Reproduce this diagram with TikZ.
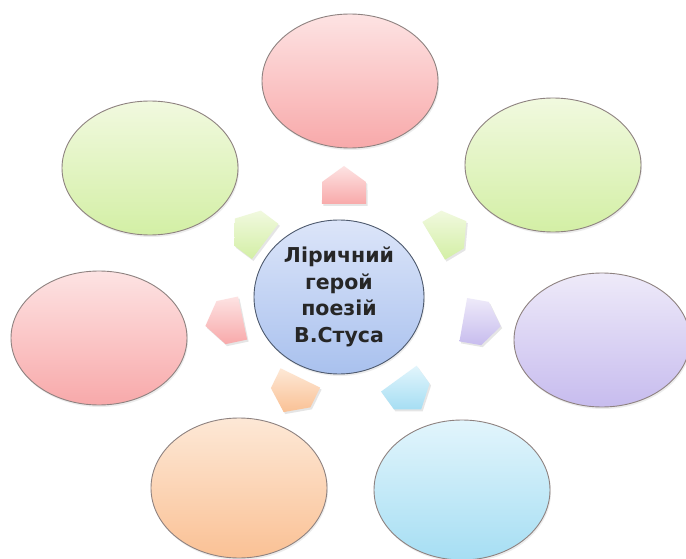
\documentclass[tikz,border=0pt]{standalone}
\usepackage{fontspec}
\setmainfont{DejaVu Sans}
\usetikzlibrary{shapes.geometric,shadows}
\definecolor{pinkT}{HTML}{FDE3E3}\definecolor{pinkB}{HTML}{F8A9AA}
\definecolor{greenT}{HTML}{F1F9DF}\definecolor{greenB}{HTML}{D3EFA5}
\definecolor{purpT}{HTML}{EEEAF9}\definecolor{purpB}{HTML}{C7BCEE}
\definecolor{blueT}{HTML}{E2F5FC}\definecolor{blueB}{HTML}{A6DEF3}
\definecolor{orT}{HTML}{FDE8D6}\definecolor{orB}{HTML}{FAC195}
\definecolor{ctrT}{HTML}{DCE5F9}\definecolor{ctrB}{HTML}{A9C1EE}
\definecolor{rim}{HTML}{8E8280}
\definecolor{ctrrim}{HTML}{4E5A6E}
\tikzset{
  bubble/.style={ellipse, draw=rim, line width=0.9pt, minimum width=176pt, minimum height=134pt, inner sep=0pt,
    drop shadow={shadow xshift=1pt, shadow yshift=-2pt, opacity=0.15}},
  blkshape/.style={draw=none, drop shadow={shadow xshift=1.5pt, shadow yshift=-2pt, opacity=0.2}},
  pinkfill/.style={top color=pinkT, bottom color=pinkB},
  greenfill/.style={top color=greenT, bottom color=greenB},
  purpfill/.style={top color=purpT, bottom color=purpB},
  bluefill/.style={top color=blueT, bottom color=blueB},
  orfill/.style={top color=orT, bottom color=orB},
}
% #1 = anchor coordinate name, #2 = direction angle, #3 = fill style
\newcommand\blkarrow[3]{%
  \path[blkshape, #3]
    ([shift={(#1)}]#2:19pt) --
    ([shift={(#1)}]{#2+82.2}:22.2pt) --
    ([shift={(#1)}]{#2+130.8}:29.07pt) --
    ([shift={(#1)}]{#2-130.8}:29.07pt) --
    ([shift={(#1)}]{#2-82.2}:22.2pt) -- cycle;}
\begin{document}
\begin{tikzpicture}[x=1pt,y=1pt]
\useasboundingbox[fill=white] (0,0) rectangle (686,558);
% outer ellipses
\node[bubble, pinkfill] (top) at (350,477) {};
\node[bubble, greenfill] (tl) at (150,390) {};
\node[bubble, greenfill] (tr) at (553,393) {};
\node[bubble, pinkfill] (left) at (99,220) {};
\node[bubble, purpfill] (right) at (602,218) {};
\node[bubble, orfill, minimum height=140pt] (bl) at (239,70) {};
\node[bubble, bluefill, minimum height=140pt] (br) at (462,68) {};
% block arrows
\coordinate (a1) at (344,373);
\coordinate (a2) at (250,328);
\coordinate (a3) at (450,327);
\coordinate (a4) at (482,235);
\coordinate (a5) at (410,164);
\coordinate (a6) at (292,163);
\coordinate (a7) at (224,236);
\blkarrow{a1}{90}{pinkfill}
\blkarrow{a2}{143}{greenfill}
\blkarrow{a3}{31}{greenfill}
\blkarrow{a4}{-10}{purpfill}
\blkarrow{a5}{-54}{bluefill}
\blkarrow{a6}{-116}{orfill}
\blkarrow{a7}{192}{pinkfill}
% centre
\node[ellipse, draw=ctrrim, line width=0.9pt, minimum width=170pt, minimum height=154pt, inner sep=0pt,
  top color=ctrT, bottom color=ctrB, align=center, text=black!85,
  font=\bfseries\fontsize{20.5}{26.5}\selectfont,
  drop shadow={shadow xshift=1pt, shadow yshift=-2pt, opacity=0.15}] (c) at (339,261)
  {Ліричний\\герой\\поезій\\В.Стуса};
\end{tikzpicture}
\end{document}
